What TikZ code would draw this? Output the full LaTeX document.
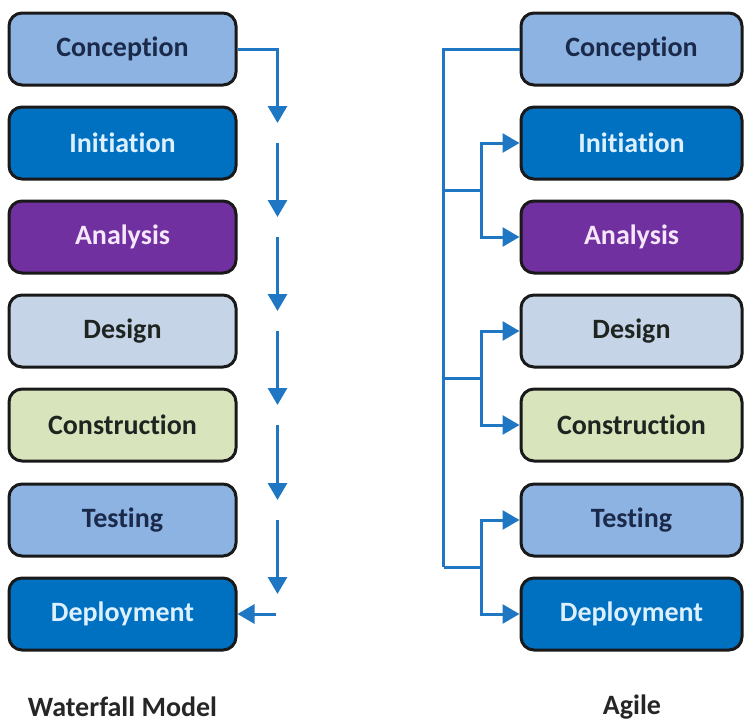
\documentclass[tikz,border=0pt]{standalone}
\usepackage{fontspec}
\setmainfont{Carlito}[Ligatures={NoCommon,NoRare},Contextuals=NoAlternate]
\usetikzlibrary{arrows.meta}

\definecolor{paleblue}{HTML}{8DB3E2}
\definecolor{deepblue}{HTML}{0070C0}
\definecolor{plum}{HTML}{7030A0}
\definecolor{greyblue}{HTML}{C6D4E7}
\definecolor{palegreen}{HTML}{D8E4BC}
\definecolor{flowblue}{HTML}{1F77C4}
\definecolor{navytext}{HTML}{1B2A4A}
\definecolor{icetext}{HTML}{DDF0FF}
\definecolor{pinktext}{HTML}{F5E6FA}
\definecolor{darktext}{HTML}{1E2420}

\tikzstyle{phase}=[draw=black!90,line width=3pt,rounded corners=13pt,minimum height=72pt,font=\fontsize{28}{30}\selectfont\bfseries]
\tikzstyle{wf phase}=[phase,minimum width=227pt]
\tikzstyle{ag phase}=[phase,minimum width=221pt]
\tikzstyle{wire}=[draw,line width=3pt,flowblue]
\tikzstyle{flow}=[wire,-{Triangle[length=17pt,width=19pt]}]
\tikzstyle{title}=[text=black!85,font=\fontsize{28}{30}\selectfont\bfseries]

\begin{document}
\begin{tikzpicture}[x=1pt,y=-1pt]
	\useasboundingbox (0,0) rectangle (745,726);
	% Waterfall column
	\node[wf phase,fill=paleblue,text=navytext] (w1) at (122.5,49) {Conception};
	\node[wf phase,fill=deepblue,text=icetext] (w2) at (122.5,143) {Initiation};
	\node[wf phase,fill=plum,text=pinktext] (w3) at (122.5,237) {Analysis};
	\node[wf phase,fill=greyblue,text=darktext] (w4) at (122.5,331) {Design};
	\node[wf phase,fill=palegreen,text=darktext] (w5) at (122.5,425) {Construction};
	\node[wf phase,fill=paleblue,text=navytext] (w6) at (122.5,520) {Testing};
	\node[wf phase,fill=deepblue,text=icetext] (w7) at (122.5,614) {Deployment};
	% Agile column
	\node[ag phase,fill=paleblue,text=navytext] (a1) at (631.5,49) {Conception};
	\node[ag phase,fill=deepblue,text=icetext] (a2) at (631.5,143) {Initiation};
	\node[ag phase,fill=plum,text=pinktext] (a3) at (631.5,237) {Analysis};
	\node[ag phase,fill=greyblue,text=darktext] (a4) at (631.5,331) {Design};
	\node[ag phase,fill=palegreen,text=darktext] (a5) at (631.5,425) {Construction};
	\node[ag phase,fill=paleblue,text=navytext] (a6) at (631.5,520) {Testing};
	\node[ag phase,fill=deepblue,text=icetext] (a7) at (631.5,614) {Deployment};
	\node[title] (wtitle) at (122.5,707) {Waterfall Model};
	\node[title] (atitle) at (632,707) {Agile};
	% Waterfall arrows
	\path[flow] (w1.east) -| ([xshift=40pt,yshift=20pt]w2.east);
	\foreach \source/\dest in {2/3,3/4,4/5,5/6,6/7}
		\path[flow] ([xshift=40pt]w\source.east) -- ([xshift=40pt,yshift=20pt]w\dest.east);
	\path[flow] ([xshift=38pt]w7.east) -- (w7.east);
	% Agile branches
	\foreach \upper/\lower in {2/3,4/5,6/7}{
		\path (a\upper.west) -- (a\lower.west) coordinate[midway] (j\upper);
		\path[wire] ([xshift=-76pt]j\upper) -- ([xshift=-38pt]j\upper);
		\path[flow] ([xshift=-38pt]j\upper) |- (a\upper.west);
		\path[flow] ([xshift=-38pt]j\upper) |- (a\lower.west);
	}
	\path[wire] (a1.west) -| ([xshift=-76pt]j6);
\end{tikzpicture}
\end{document}
